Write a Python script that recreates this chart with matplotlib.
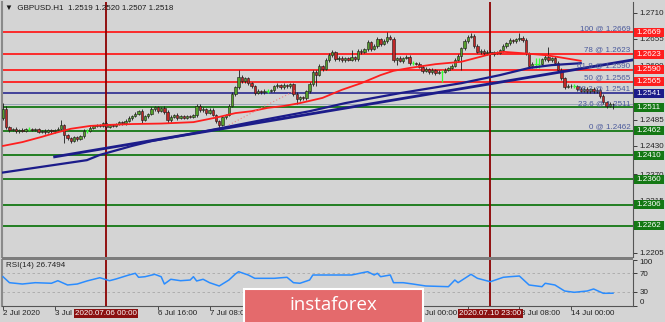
import numpy as np
import matplotlib.pyplot as plt
from matplotlib.patches import Rectangle
from matplotlib.transforms import blended_transform_factory

plt.rcParams['font.family'] = ['Liberation Sans', 'DejaVu Sans']

# ---- GBPUSD H1 candles (bar 0 = 2 Jul 16:00), closes
first_open = 1.2488
closes = [
    1.2508, 1.2469, 1.2463, 1.2466, 1.2461, 1.2464, 1.2462, 1.2466, 1.2466, 1.2463,
    1.2465, 1.2460, 1.2462, 1.2459, 1.2463, 1.2461, 1.2464, 1.2466, 1.2474, 1.2452,
    1.2446, 1.2441, 1.2448, 1.2444, 1.2450, 1.2462, 1.2462, 1.2468, 1.2471, 1.2474,
    1.2472, 1.2478, 1.2470, 1.2474, 1.2472, 1.2476, 1.2480, 1.2478, 1.2483, 1.2488,
    1.2493, 1.2497, 1.2503, 1.2485, 1.2492, 1.2498, 1.2507, 1.2511, 1.2504, 1.2510,
    1.2501, 1.2484, 1.2491, 1.2495, 1.2488, 1.2492, 1.2489, 1.2493, 1.2491, 1.2494,
    1.2515, 1.2505, 1.2508, 1.2500, 1.2506, 1.2495, 1.2483, 1.2474, 1.2490, 1.2495,
    1.2515, 1.2540, 1.2553, 1.2575, 1.2566, 1.2572, 1.2562, 1.2555, 1.2542, 1.2546,
    1.2543, 1.2546, 1.2546, 1.2547, 1.2555, 1.2558, 1.2553, 1.2558, 1.2555, 1.2560,
    1.2540, 1.2528, 1.2532, 1.2530, 1.2545, 1.2560, 1.2585, 1.2580, 1.2598, 1.2592,
    1.2610, 1.2622, 1.2627, 1.2612, 1.2616, 1.2610, 1.2614, 1.2611, 1.2617, 1.2612,
    1.2630, 1.2628, 1.2633, 1.2648, 1.2634, 1.2640, 1.2655, 1.2645, 1.2650, 1.2660,
    1.2655, 1.2610, 1.2615, 1.2609, 1.2615, 1.2618, 1.2604, 1.2604, 1.2603, 1.2597,
    1.2588, 1.2591, 1.2585, 1.2589, 1.2584, 1.2586, 1.2586, 1.2590, 1.2594, 1.2598,
    1.2610, 1.2620, 1.2635, 1.2650, 1.2660, 1.2662, 1.2640, 1.2628, 1.2630, 1.2625,
    1.2628, 1.2624, 1.2627, 1.2626, 1.2631, 1.2640, 1.2646, 1.2652, 1.2650, 1.2654,
    1.2657, 1.2653, 1.2625, 1.2598, 1.2603, 1.2603, 1.2603, 1.2612, 1.2617, 1.2610,
    1.2615, 1.2605, 1.2590, 1.2572, 1.2554, 1.2557, 1.2556, 1.2556, 1.2550, 1.2546,
    1.2550, 1.2545, 1.2549, 1.2545, 1.2548, 1.2535, 1.2522, 1.2515, 1.2519, 1.2518,
]
# wick lengths in pips above / below the body
up_wick = [
    13, 6, 3, 2, 3, 2, 3, 2, 3, 2,
    3, 2, 2, 3, 2, 3, 2, 3, 11, 3,
    3, 2, 3, 2, 3, 3, 4, 3, 2, 3,
    3, 2, 4, 2, 3, 2, 3, 2, 3, 4,
    3, 4, 3, 4, 3, 2, 4, 3, 3, 2,
    3, 4, 3, 2, 4, 3, 2, 3, 2, 4,
    4, 3, 3, 2, 4, 3, 3, 2, 3, 3,
    3, 4, 4, 15, 5, 3, 4, 3, 3, 3,
    2, 3, 4, 3, 3, 4, 3, 4, 3, 3,
    3, 3, 4, 3, 3, 4, 5, 4, 4, 3,
    4, 3, 5, 3, 3, 4, 3, 3, 15, 3,
    4, 3, 4, 5, 3, 4, 4, 3, 4, 9,
    4, 5, 3, 4, 3, 3, 4, 5, 3, 3,
    3, 4, 3, 4, 3, 3, 4, 3, 3, 4,
    4, 3, 4, 5, 4, 5, 3, 4, 3, 3,
    3, 4, 3, 3, 3, 4, 3, 4, 3, 4,
    10, 4, 4, 3, 4, 12, 12, 3, 4, 22,
    3, 4, 3, 4, 3, 4, 3, 4, 3, 4,
    3, 4, 3, 4, 3, 3, 4, 3, 3, 1,
]
dn_wick = [
    3, 4, 3, 2, 3, 3, 2, 3, 3, 2,
    2, 3, 2, 3, 2, 3, 3, 2, 3, 16,
    3, 4, 3, 3, 2, 3, 4, 2, 3, 2,
    3, 3, 4, 3, 2, 3, 2, 3, 3, 2,
    3, 3, 2, 7, 3, 3, 2, 3, 4, 3,
    3, 5, 3, 3, 4, 2, 3, 2, 3, 3,
    3, 4, 3, 4, 3, 3, 4, 11, 3, 3,
    3, 3, 4, 3, 3, 4, 3, 4, 5, 3,
    3, 4, 4, 3, 3, 3, 4, 3, 3, 4,
    4, 10, 3, 4, 3, 3, 4, 25, 3, 4,
    3, 3, 4, 4, 3, 3, 4, 3, 3, 4,
    3, 4, 3, 3, 4, 3, 3, 4, 3, 3,
    3, 4, 10, 3, 4, 3, 4, 4, 3, 4,
    4, 3, 4, 3, 4, 3, 21, 3, 3, 3,
    3, 3, 30, 3, 3, 3, 4, 3, 4, 3,
    3, 3, 4, 3, 3, 3, 3, 3, 3, 3,
    3, 4, 4, 5, 4, 9, 9, 3, 3, 4,
    3, 4, 4, 3, 4, 3, 4, 4, 4, 3,
    3, 4, 3, 3, 4, 4, 4, 5, 4, 11,
]

# moving averages / trend line at some bars
red_ma_bar = [0, 6, 12, 16, 21, 27, 32, 40, 49, 59, 67, 72, 77, 82, 87, 92, 99, 105,
              111, 117, 121, 126, 134, 142, 151, 155, 161, 168, 172, 179]
red_ma_val = [1.2430, 1.2438, 1.2449, 1.2457, 1.2466, 1.2472, 1.2474, 1.2476, 1.2477,
              1.2480, 1.2491, 1.2499, 1.2503, 1.2510, 1.2514, 1.2520, 1.2531, 1.2548,
              1.2562, 1.2579, 1.2588, 1.2594, 1.2602, 1.2607, 1.2623, 1.2628, 1.2625,
              1.2621, 1.2617, 1.2609]
blue_ma_bar = [0, 12, 26, 30, 40, 46, 58, 68, 80, 95, 106, 123, 142, 154, 163, 170, 179]
blue_ma_val = [1.2374, 1.2386, 1.2400, 1.2411, 1.2430, 1.2440, 1.2455, 1.2468, 1.2484,
               1.2503, 1.2520, 1.2541, 1.2562, 1.2579, 1.2594, 1.2600, 1.2604]
dotted_bar = [70, 80, 91]
dotted_val = [1.2474, 1.2510, 1.2548]
trend_bar = [16, 195.2]
trend_val = [1.2407, 1.2611]

red_levels = [1.2669, 1.2623, 1.2590, 1.2565]
navy_levels = [1.2541]
green_levels = [1.2511, 1.2462, 1.2410, 1.2360, 1.2306, 1.2262]
bid = 1.2518

fib_pct = ['100', '78', '61.8', '50', '38.2', '23.6', '0']
fib_price = [1.2669, 1.2623, 1.2590, 1.2565, 1.2541, 1.2511, 1.2462]

price_ticks = [1.2205, 1.2260, 1.2315, 1.2370, 1.2430, 1.2485, 1.2545, 1.2600, 1.2655, 1.2710]
price_tick_txt = ['1.2205', '', '1.2315', '1.2370', '1.2430', '1.2485', '', '1.2600',
                  '1.2655', '1.2710']

rsi_bar = [0, 2, 6, 10, 15, 17, 20, 23, 26, 30, 33, 35, 39, 41, 42, 44, 47, 49, 50, 52,
           55, 58, 59, 60, 62, 64, 67, 70, 72, 73, 76, 78, 84, 88, 90, 92, 95, 96, 102, 108,
           112, 113, 115, 116, 117, 120, 121, 124, 127, 131, 138, 140, 141, 145, 147, 151,
           155, 157, 160, 163, 167, 168, 171, 174, 177, 181, 183, 186, 189]
rsi_val = [62.6, 49.6, 46.7, 49.6, 48.3, 53.9, 44.6, 46.7, 53.3, 60.4, 53.9, 57.6, 66.3,
           70.0, 61.3, 62.6, 67.8, 62.6, 46.7, 57.0, 53.9, 55.4, 62.6, 53.3, 57.0, 49.6,
           42.4, 55.4, 68.5, 73.5, 66.3, 59.1, 59.1, 61.3, 49.6, 48.3, 55.4, 66.3, 66.3,
           66.3, 72.2, 73.5, 66.3, 70.0, 62.6, 66.3, 49.6, 49.6, 46.7, 42.4, 40.9, 55.4,
           49.6, 67.8, 59.1, 51.7, 61.3, 62.6, 64.1, 44.6, 40.9, 48.3, 44.6, 31.5, 28.7,
           31.5, 35.9, 26.5, 26.7]

# time labels as they show between the date boxes and the logo
xtick_bar = [0, 16, 48, 64, 80, 96, 112, 128, 144, 160, 176]
xlab_bar = [0, 16, 48, 64, 130.8, 160.6, 176]
xlab_txt = ['2 Jul 2020', '3 Jul 0', '6 Jul 16:00', '7 Jul 08:00', 'Jul 00:00',
            '3 Jul 08:00', '14 Jul 00:00']
vline_bar = [32, 151]
vline_txt = ['2020.07.06 00:00', '2020.07.10 23:00']

BG = '#d4d4d4'
RED = '#ff1e1e'
GREEN = '#147814'
NAVY = '#1c1c8a'
FS = 5.8

W, H = 665, 322
fig = plt.figure(figsize=(W / 100, H / 100), dpi=100, facecolor=BG)


def box(x0, y0, x1, y1):
    return [x0 / W, 1 - y1 / H, (x1 - x0) / W, (y1 - y0) / H]


ax = fig.add_axes(box(2, 2, 633, 257), facecolor=BG)
ax_rsi = fig.add_axes(box(2, 259.5, 633, 305.5), facecolor=BG, sharex=ax)

# candles
c = np.array(closes)
o = np.r_[first_open, c[:-1]]
hi = np.maximum(o, c) + np.array(up_wick) * 1e-4
lo = np.minimum(o, c) - np.array(dn_wick) * 1e-4
x = np.arange(len(c))
doji = np.isclose(o, c)
bull = (c > o) & ~doji
bear = (c < o) & ~doji

ax.vlines(x[~doji], lo[~doji], hi[~doji], color='#1a1a1a', lw=0.6, zorder=4)
ax.bar(x[bull], (c - o)[bull], bottom=o[bull], width=0.72, color='#55a02c',
       edgecolor='#1a1a1a', lw=0.4, zorder=5)
ax.bar(x[bear], (o - c)[bear], bottom=c[bear], width=0.72, color='#c02828',
       edgecolor='#1a1a1a', lw=0.4, zorder=5)
ax.vlines(x[doji], lo[doji], hi[doji], color='#33ff33', lw=0.9, zorder=5)
ax.hlines(c[doji], x[doji] - 0.4, x[doji] + 0.4, color='#33ff33', lw=0.9, zorder=5)

# levels
for lv in red_levels:
    ax.axhline(lv, color=RED, lw=1.3, zorder=2)
for lv in navy_levels:
    ax.axhline(lv, color=NAVY, lw=1.1, zorder=2)
for lv in green_levels:
    ax.axhline(lv, color=GREEN, lw=1.3, zorder=2)
ax.axhline(bid, color='#9aa6b8', lw=0.7, zorder=2)

# indicators
ax.plot(red_ma_bar, red_ma_val, color=RED, lw=1.3, zorder=6)
ax.plot(blue_ma_bar, blue_ma_val, color=NAVY, lw=1.6, zorder=6)
ax.plot(trend_bar, trend_val, color=NAVY, lw=2.0, zorder=6)
ax.plot(dotted_bar, dotted_val, color='#f08080', lw=0.8, ls=(0, (1, 2)), zorder=6)

for b in vline_bar:
    ax.axvline(b, color='#8b0000', lw=1.3, zorder=3)
    ax_rsi.axvline(b, color='#8b0000', lw=1.3, zorder=3)

ax.set_xlim(-0.31, 195.2)
ax.set_ylim(1.21962, 1.27328)

# fibonacci captions
tr = blended_transform_factory(ax.transAxes, ax.transData)
for p, v in zip(fib_pct, fib_price):
    ax.text(0.996, v + 0.0001, f'{p} @ {v:.4f}', transform=tr, ha='right', va='bottom',
            color='#4b5a9c', fontsize=FS, zorder=7)

# right price axis
ax.yaxis.tick_right()
ax.set_yticks(price_ticks)
ax.set_yticklabels(price_tick_txt)
ax.tick_params(axis='y', length=3, width=0.6, pad=1.5, labelsize=FS, colors='#222222')
ax.tick_params(axis='x', length=0, labelbottom=False)

for levels, col in ((red_levels, RED), (navy_levels, NAVY), (green_levels, GREEN)):
    for lv in levels:
        ax.add_patch(Rectangle((1.0015, lv - 0.00095), 30 / 631, 0.0019, transform=tr,
                               facecolor=col, edgecolor='none', clip_on=False, zorder=8))
        ax.text(1.0015 + 15 / 631, lv, f'{lv:.4f}', transform=tr, ha='center',
                va='center', color='white', fontsize=FS, clip_on=False, zorder=9)

for s in ('top', 'bottom'):
    ax.spines[s].set_visible(False)
ax.spines['left'].set_color('#8a8a8a')
ax.spines['left'].set_linewidth(1.5)
ax.spines['right'].set_color('#555555')
ax.spines['right'].set_linewidth(0.8)

# RSI panel
ax_rsi.plot(rsi_bar, rsi_val, color='#2a8cff', lw=1.1, zorder=4)
for lv in (70, 30):
    ax_rsi.axhline(lv, color='#a8a8a8', lw=0.6, ls=(0, (3, 3)), zorder=1)
ax_rsi.set_ylim(0, 100)
ax_rsi.yaxis.tick_right()
ax_rsi.set_yticks([0, 30, 70, 100])
ax_rsi.set_yticklabels(['0', '30', '70', '100'])
ax_rsi.tick_params(axis='y', length=3, width=0.6, pad=1.5, labelsize=FS, colors='#222222')
lbls = ax_rsi.get_yticklabels()
lbls[0].set_va('bottom')
lbls[-1].set_va('top')
ax_rsi.text(0.006, 0.86, 'RSI(14) 26.7494', transform=ax_rsi.transAxes, fontsize=FS,
            color='#222222', va='center')

ax_rsi.set_xticks(xtick_bar)
ax_rsi.tick_params(axis='x', length=3, width=0.6, labelbottom=False, colors='#333333')
trx = blended_transform_factory(ax_rsi.transData, ax_rsi.transAxes)
for b, t in zip(xlab_bar, xlab_txt):
    ax_rsi.text(b, -0.17, t, transform=trx, ha='left', va='center', fontsize=FS,
                color='#222222', clip_on=False)
for b, t in zip(vline_bar, vline_txt):
    ax_rsi.text(b, -0.17, t, transform=trx, ha='center', va='center', fontsize=FS,
                color='white', clip_on=False, zorder=10,
                bbox=dict(boxstyle='square,pad=0.15', fc='#8b1010', ec='none'))

ax_rsi.spines['top'].set_visible(False)
ax_rsi.spines['left'].set_color('#8a8a8a')
ax_rsi.spines['left'].set_linewidth(1.5)
for s in ('right', 'bottom'):
    ax_rsi.spines[s].set_color('#555555')
    ax_rsi.spines[s].set_linewidth(0.8)

# panel separator
fig.patches.append(Rectangle((2 / W, 1 - 259.5 / H), 631 / W, 2.5 / H,
                             transform=fig.transFigure, facecolor='#7c7c7c',
                             edgecolor='none'))

# header
fig.text(5 / W, 1 - 8 / H, '\u25bc  GBPUSD.H1  1.2519 1.2520 1.2507 1.2518', fontsize=FS,
         color='#1a1a1a', va='center')

# watermark logo
fig.patches.append(Rectangle((244 / W, 1 - 325 / H), 179 / W, 36 / H,
                             transform=fig.transFigure, facecolor='#e46a6c',
                             edgecolor='white', lw=1.5, zorder=20))
fig.text(333 / W, 1 - 305 / H, 'instaforex', fontsize=13.5, family='Open Sans',
         color='white', ha='center', va='center', zorder=21)

fig.savefig('out.png', dpi=100, facecolor=BG)
